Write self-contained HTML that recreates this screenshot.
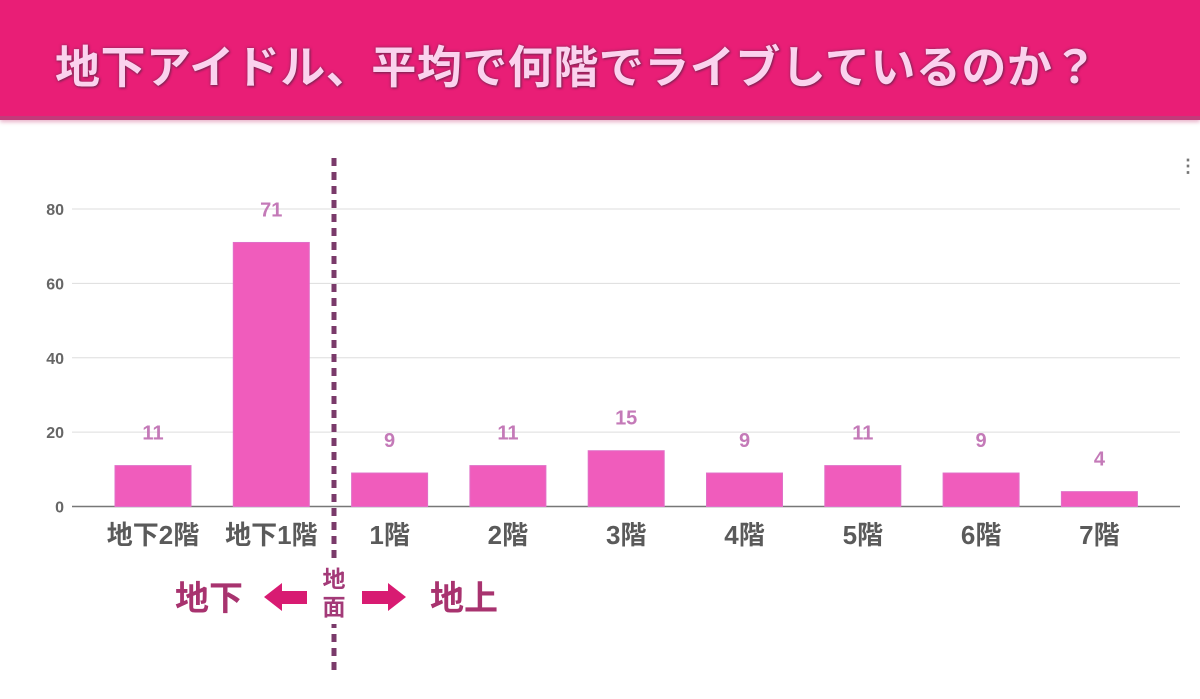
<!DOCTYPE html>
<html><head><meta charset="utf-8"><style>
body{margin:0;width:1200px;height:699px;background:#fff;overflow:hidden;font-family:"Liberation Sans","Noto Sans CJK JP",sans-serif;}
#hdr{position:absolute;left:0;top:0;width:1200px;height:116px;background:#e91e76;border-bottom:4px solid #c23a7a;box-shadow:0 2px 4px rgba(200,60,120,.4);}
#ttl{position:absolute;left:55px;top:38px;font-size:45px;line-height:60px;font-weight:bold;color:#fbd2ee;letter-spacing:0.5px;text-shadow:0 0 3px #8a2a5a,1px 1px 2px #7a2050;white-space:nowrap;}
svg{position:absolute;left:0;top:0;}
</style></head><body>
<div id="hdr"><div id="ttl">地下アイドル、平均で何階でライブしているのか？</div></div>
<svg id="chart" width="1200" height="699"></svg>
<script>
const categories=["地下2階","地下1階","1階","2階","3階","4階","5階","6階","7階"];
const values=[11,71,9,11,15,9,11,9,4];
const yTicks=[0,20,40,60,80];
const NS="http://www.w3.org/2000/svg";
const svg=document.getElementById('chart');
const y0=506.5;
function y(v){return y0-v*(506.5-209)/80;}
function x(i){return 153+i*118.3;}
function mk(t,a,txt){const e=document.createElementNS(NS,t);for(const k in a)e.setAttribute(k,a[k]);if(txt!==undefined)e.textContent=txt;svg.appendChild(e);return e;}
yTicks.forEach(t=>{
 const g=mk('line',{x1:72,x2:1180,y1:y(t),y2:y(t),stroke:t===0?'#777':'#ddd','stroke-width':t===0?1.5:1});
 
 
 const l=mk('text',{x:64,y:y(t)+6,'text-anchor':'end','font-size':16,'font-weight':'bold',fill:'#666'},t);
 
 
});
categories.forEach((c,i)=>{
 const b=mk('rect',{x:x(i)-38,y:y(values[i]),width:76,height:y0-y(values[i]),fill:'#f05cbc',stroke:'#e070c8','stroke-width':1});
 
 
 const v=mk('text',{x:x(i),y:y(values[i])-26,'text-anchor':'middle','font-size':20,'font-weight':'bold',fill:'#c47ab8'},values[i]);
 
 
 const cl=mk('text',{x:x(i),y:544,'text-anchor':'middle','font-size':26,'font-weight':'bold',fill:'#5a5a5a'},c);
 
 
});
const d=mk('line',{x1:334,x2:334,y1:158,y2:670,stroke:'#7a3a6a','stroke-width':5,'stroke-dasharray':'8 6'});


mk('rect',{x:318,y:560,width:32,height:64,fill:'#fff'});
const g1=mk('text',{x:334,y:587,'text-anchor':'middle','font-size':23,'font-weight':'bold',fill:'#a33a78'},'地');


const g2=mk('text',{x:334,y:615,'text-anchor':'middle','font-size':23,'font-weight':'bold',fill:'#a33a78'},'面');


const u=mk('text',{x:209,y:610,'text-anchor':'middle','font-size':34,'font-weight':'bold',fill:'#a8336f'},'地下');


const a=mk('text',{x:464,y:610,'text-anchor':'middle','font-size':34,'font-weight':'bold',fill:'#a8336f'},'地上');


const al=mk('polygon',{points:'264,597 282,583 282,591 307,591 307,604 282,604 282,611',fill:'#d81b72'});


const ar=mk('polygon',{points:'406,597 388,583 388,591 362,591 362,604 388,604 388,611',fill:'#d81b72'});


const m=mk('text',{x:1188,y:172,'text-anchor':'middle','font-size':18,'font-weight':'bold',fill:'#777'},'⋮');


</script>
</body></html>
